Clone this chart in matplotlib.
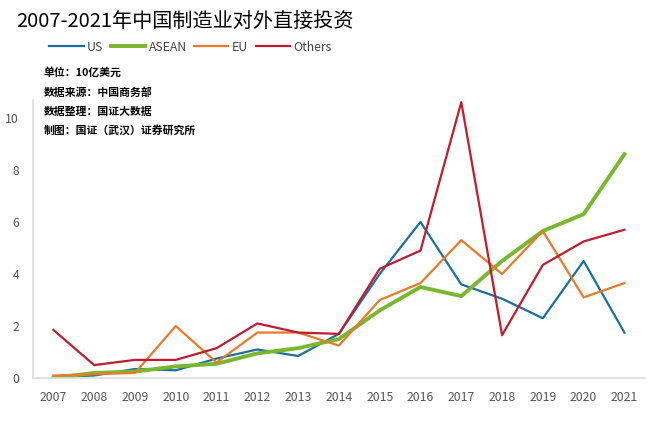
import matplotlib.pyplot as plt

plt.rcParams['font.family'] = ['Noto Sans CJK SC', 'DejaVu Sans']

years = ['2007', '2008', '2009', '2010', '2011', '2012', '2013', '2014',
         '2015', '2016', '2017', '2018', '2019', '2020', '2021']
us = [0.05, 0.1, 0.35, 0.3, 0.75, 1.1, 0.85, 1.7, 4.0, 6.0, 3.6, 3.05, 2.3, 4.5, 1.75]
asean = [0.0, 0.2, 0.25, 0.45, 0.55, 0.95, 1.15, 1.5, 2.6, 3.5, 3.15, 4.5, 5.65, 6.3, 8.6]
eu = [0.1, 0.15, 0.2, 2.0, 0.6, 1.75, 1.75, 1.25, 3.0, 3.65, 5.3, 4.0, 5.65, 3.1, 3.65]
others = [1.85, 0.5, 0.7, 0.7, 1.15, 2.1, 1.75, 1.7, 4.2, 4.9, 10.6, 1.65, 4.35, 5.25, 5.7]

fig = plt.figure(figsize=(6.6, 4.22), dpi=100)
ax = fig.add_axes([0.05, 0.104, 0.927, 0.66])

x = range(len(years))
ax.plot(x, us, color='#1a6fa0', linewidth=1.6, label='US')
ax.plot(x, asean, color='#78b72e', linewidth=2.8, label='ASEAN')
ax.plot(x, eu, color='#ea7a2a', linewidth=1.6, label='EU')
ax.plot(x, others, color='#c01b2f', linewidth=1.6, label='Others')

ax.set_xlim(-0.5, len(years) - 0.5)
ax.set_ylim(0, 10.7)
ax.set_xticks(list(x))
ax.set_xticklabels(years)
ax.set_yticks([0, 2, 4, 6, 8, 10])
ax.tick_params(axis='both', length=0, labelsize=8.8, colors='#555555')
ax.tick_params(axis='x', pad=9)
ax.tick_params(axis='y', pad=10)
for s in ['top', 'right']:
    ax.spines[s].set_visible(False)
for s in ['left', 'bottom']:
    ax.spines[s].set_color('#dddddd')
    ax.spines[s].set_linewidth(1.2)

fig.text(0.024, 0.95, '2007-2021年中国制造业对外直接投资', fontsize=14.5, va='center')
fig.legend(loc='center left', bbox_to_anchor=(0.058, 0.888), ncol=4, frameon=False,
           fontsize=8.8, handlelength=2.8, columnspacing=0.6, handletextpad=0.3,
           labelcolor='#444444')

notes = ['单位：10亿美元', '数据来源：中国商务部', '数据整理：国证大数据', '制图：国证（武汉）证券研究所']
ys = [0.829, 0.781, 0.736, 0.691]
for t, yy in zip(notes, ys):
    fig.text(0.066, yy, t, fontsize=7.8, fontweight='bold', va='center')

fig.savefig('out.png', dpi=100)
